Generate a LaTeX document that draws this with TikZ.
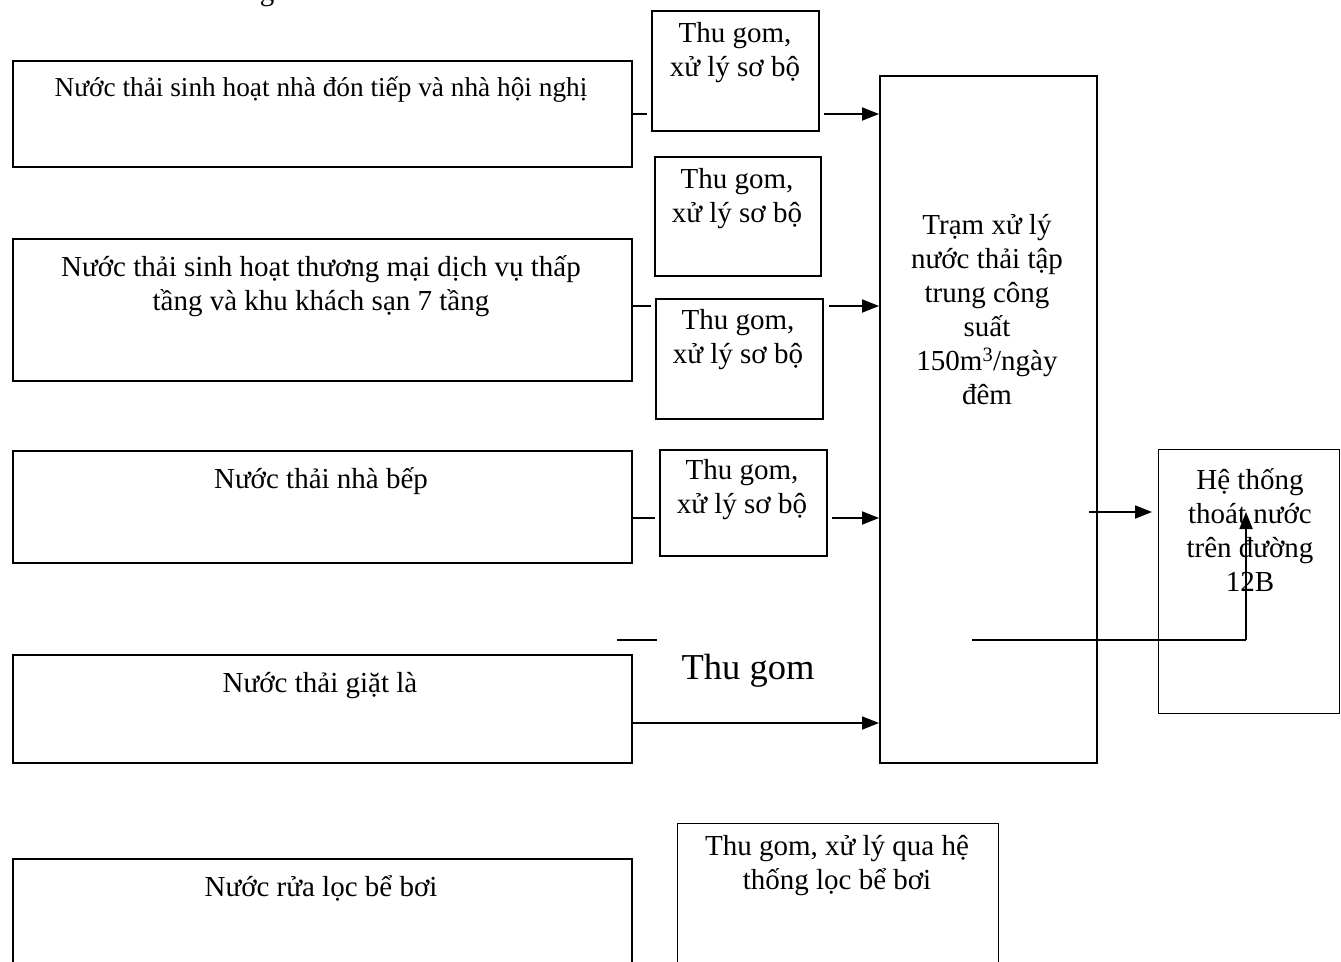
\documentclass[tikz,border=0pt]{standalone}
\usepackage{fontspec}
\setmainfont{Liberation Serif}
\usetikzlibrary{arrows.meta}
\begin{document}
\begin{tikzpicture}[x=1pt,y=-1pt,
  box/.style={draw,line width=2pt,anchor=north west,inner sep=0pt},
  thinbox/.style={draw,line width=1.3pt,anchor=north west,inner sep=0pt},
  txt/.style={align=center,inner sep=0pt,anchor=base,font=\fontsize{29}{34}\selectfont},
  flow/.style={line width=1.8pt,-{Triangle[length=17pt,width=13pt]}},
  tick/.style={line width=1.8pt}]
\useasboundingbox (0,0) rectangle (1341,961);
\clip (0,0) rectangle (1341,961);

% cut-off heading
\node[txt] (head) at (267,1) {g};

% sources (base of a text = its last line)
\node[box,minimum width=619,minimum height=106] (nt1) at (12,60) {};
\node[txt,font=\fontsize{27.3}{34}\selectfont] (nt1txt) at (321,96) {Nước thải sinh hoạt nhà đón tiếp và nhà hội nghị};
\node[box,minimum width=619,minimum height=142] (nt2) at (12,238) {};
\node[txt] (nt2txt) at (321,310.5) {Nước thải sinh hoạt thương mại dịch vụ thấp\\tầng và khu khách sạn 7 tầng};
\node[box,minimum width=619,minimum height=112] (nt3) at (12,450) {};
\node[txt] (nt3txt) at (321,488.5) {Nước thải nhà bếp};
\node[box,minimum width=619,minimum height=108] (nt4) at (12,654) {};
\node[txt] (nt4txt) at (320,692.5) {Nước thải giặt là};
\node[box,minimum width=619,minimum height=150] (nt5) at (12,858) {};
\node[txt] (nt5txt) at (321,896.5) {Nước rửa lọc bể bơi};

% pre-treatment
\node[box,minimum width=167,minimum height=120] (tg1) at (651,10) {};
\node[txt] (tg1txt) at (735,76.5) {Thu gom,\\xử lý sơ bộ};
\node[box,minimum width=166,minimum height=119] (tg2) at (654,156) {};
\node[txt] (tg2txt) at (737,222.5) {Thu gom,\\xử lý sơ bộ};
\node[box,minimum width=167,minimum height=120] (tg3) at (655,298) {};
\node[txt] (tg3txt) at (738,363.5) {Thu gom,\\xử lý sơ bộ};
\node[box,minimum width=167,minimum height=106] (tg4) at (659,449) {};
\node[txt] (tg4txt) at (742,513.5) {Thu gom,\\xử lý sơ bộ};
\node[txt,font=\fontsize{36.5}{42}\selectfont] (tg5) at (748,679) {Thu gom};
\node[thinbox,minimum width=321,minimum height=160] (tg6) at (677,823) {};
\node[txt] (tg6txt) at (837,889.5) {Thu gom, xử lý qua hệ\\thống lọc bể bơi};

% treatment plant and outlet
\node[box,minimum width=217,minimum height=687] (tram) at (879,75) {};
\node[txt] (tramtxt) at (987,404.5) {Trạm xử lý\\nước thải tập\\trung công\\suất\\150m\textsuperscript{3}/ngày\\đêm};
\node[thinbox,minimum width=181,minimum height=264] (ht) at (1158,449) {};
\node[txt] (httxt) at (1250,591.5) {Hệ thống\\thoát nước\\trên đường\\12B};

% connectors
\draw[tick,shorten >=4pt] (nt1.east) -- (nt1.east -| tg1.west);
\draw[flow,shorten <=4pt] (nt1.east -| tg1.east) -- (nt1.east -| tram.west);
\draw[tick,shorten >=4pt] ([yshift=4pt]nt2.east) -- ([yshift=4pt]nt2.east -| tg3.west);
\draw[flow,shorten <=5pt] ([yshift=4pt]nt2.east -| tg3.east) -- ([yshift=4pt]nt2.east -| tram.west);
\draw[tick,shorten >=4pt] ([yshift=-11pt]nt3.east) -- ([yshift=-11pt]nt3.east -| tg4.west);
\draw[flow,shorten <=4pt] ([yshift=-11pt]nt3.east -| tg4.east) -- ([yshift=-11pt]nt3.east -| tram.west);
\coordinate (s1) at (617,640);
\coordinate (s2) at (657,640);
\draw[tick] (s1) -- (s2);
\draw[flow] ([yshift=-14pt]nt4.east) -- ([yshift=-14pt]nt4.east -| tram.west);

\coordinate (o1) at (1089,512);
\draw[flow,shorten >=6pt] (o1) -- (o1 -| ht.west);
\coordinate (o2) at (972,640);
\coordinate (o3) at (1246,640);
\draw[tick] (o2) -- (o3);
\draw[flow] (o3) -- (o3 |- o1);
\end{tikzpicture}
\end{document}
